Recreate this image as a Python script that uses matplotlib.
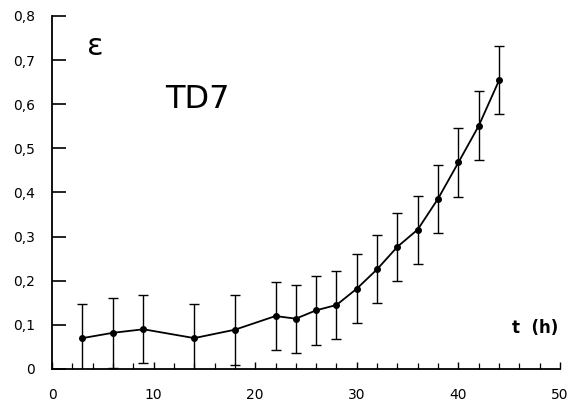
import matplotlib
matplotlib.use('Agg')
import matplotlib.pyplot as plt
from matplotlib.ticker import MultipleLocator, FuncFormatter

# data (strain vs time, sample TD7)
t_hours = [3, 6, 9, 14, 18, 22, 24, 26, 28, 30, 32, 34, 36, 38, 40, 42, 44]
strain = [0.070, 0.082, 0.090, 0.070, 0.089, 0.120, 0.114, 0.133, 0.145, 0.182,
          0.226, 0.277, 0.316, 0.386, 0.468, 0.551, 0.654]
strain_err = [0.078, 0.080, 0.077, 0.078, 0.079, 0.077, 0.077, 0.078, 0.078, 0.078,
              0.077, 0.077, 0.077, 0.077, 0.078, 0.078, 0.077]

y_ticks = [0, 0.1, 0.2, 0.3, 0.4, 0.5, 0.6, 0.7, 0.8]
x_ticks = [0, 10, 20, 30, 40, 50]

plt.rcParams['font.family'] = ['DejaVu Sans']

fig = plt.figure(figsize=(5.74, 4.07), dpi=100)
ax = fig.add_axes([0.0906, 0.0934, 0.885, 0.8673])

ax.errorbar(t_hours, strain, yerr=strain_err, color='black', lw=1.3,
            marker='o', markersize=4, capsize=3.5, elinewidth=1.0, capthick=1.0)

ax.set_xlim(0, 50)
ax.set_ylim(0, 0.8)
ax.spines['top'].set_visible(False)
ax.spines['right'].set_visible(False)
for s in ('left', 'bottom'):
    ax.spines[s].set_linewidth(1.3)
    ax.spines[s].set_clip_on(False)

ax.set_xticks(x_ticks)
ax.set_yticks(y_ticks)
ax.xaxis.set_minor_locator(MultipleLocator(2))
comma = FuncFormatter(lambda v, p: '0' if abs(v) < 1e-9 else f'{v:g}'.replace('.', ','))
ax.yaxis.set_major_formatter(comma)
ax.tick_params(axis='y', direction='in', length=10, width=1.2, labelsize=10, pad=12)
ax.tick_params(axis='x', which='major', direction='in', length=5, width=1.0,
               labelsize=10, pad=14)
ax.tick_params(axis='x', which='minor', direction='in', length=4, width=0.9)

ax.text(4.3, 0.73, 'ε', fontsize=22, ha='center', va='center')
ax.text(14.3, 0.61, 'TD7', fontsize=23, ha='center', va='center')
ax.text(47.6, 0.093, 't  (h)', fontsize=12, fontweight='bold', ha='center', va='center')

fig.savefig('out.png', dpi=100)
